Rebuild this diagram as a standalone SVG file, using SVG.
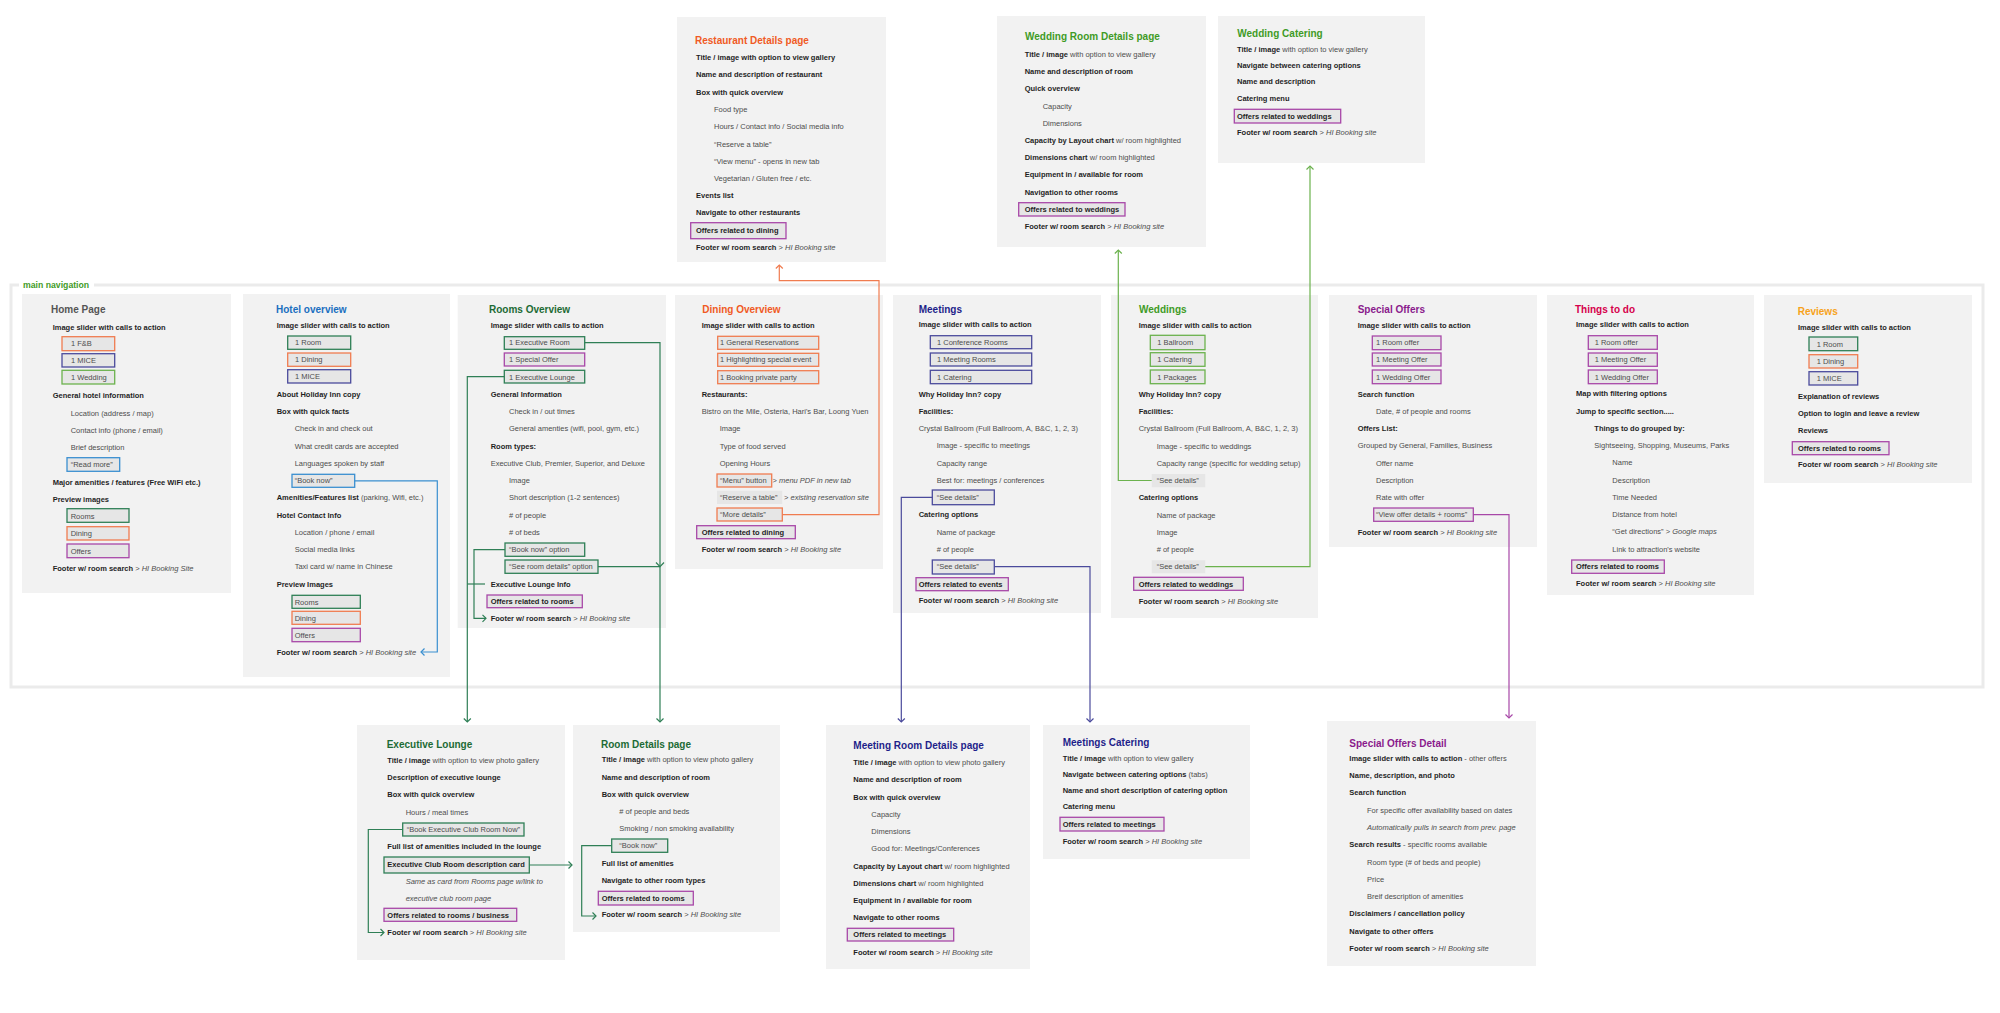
<svg xmlns="http://www.w3.org/2000/svg" width="2000" height="1013" viewBox="0 0 2000 1013">
<style>
text{font-family:"Liberation Sans",Arial,sans-serif;font-size:7.5px;fill:#4d4d4d}
.b{font-weight:bold;fill:#1f1f1f}
.i{font-style:italic}
.t{font-size:10px;font-weight:bold}
.box{fill:#f2f2f2}
.btn{fill:#e6e6e6;stroke-width:1.3}
.gb{fill:#e6e6e6}
.sg{stroke:#2f7f56}.so{stroke:#f07c50}.sn{stroke:#4b4b9c}.sw{stroke:#6cb24e}.sp{stroke:#a848a8}.sb{stroke:#3a8fd0}
.ln{fill:none;stroke-width:1.2}
</style>
<defs>
<marker id="mg" viewBox="-6 -6 12 12" markerWidth="12" markerHeight="12" markerUnits="userSpaceOnUse" orient="auto"><path d="M-3.5,-3.5 L0,0 L-3.5,3.5" fill="none" stroke="#2f7f56" stroke-width="1.2"/></marker>
<marker id="mo" viewBox="-6 -6 12 12" markerWidth="12" markerHeight="12" markerUnits="userSpaceOnUse" orient="auto"><path d="M-3.5,-3.5 L0,0 L-3.5,3.5" fill="none" stroke="#f07c50" stroke-width="1.2"/></marker>
<marker id="mn" viewBox="-6 -6 12 12" markerWidth="12" markerHeight="12" markerUnits="userSpaceOnUse" orient="auto"><path d="M-3.5,-3.5 L0,0 L-3.5,3.5" fill="none" stroke="#4b4b9c" stroke-width="1.2"/></marker>
<marker id="mw" viewBox="-6 -6 12 12" markerWidth="12" markerHeight="12" markerUnits="userSpaceOnUse" orient="auto"><path d="M-3.5,-3.5 L0,0 L-3.5,3.5" fill="none" stroke="#6cb24e" stroke-width="1.2"/></marker>
<marker id="mp" viewBox="-6 -6 12 12" markerWidth="12" markerHeight="12" markerUnits="userSpaceOnUse" orient="auto"><path d="M-3.5,-3.5 L0,0 L-3.5,3.5" fill="none" stroke="#a848a8" stroke-width="1.2"/></marker>
<marker id="mb" viewBox="-6 -6 12 12" markerWidth="12" markerHeight="12" markerUnits="userSpaceOnUse" orient="auto"><path d="M-3.5,-3.5 L0,0 L-3.5,3.5" fill="none" stroke="#3a8fd0" stroke-width="1.2"/></marker>
</defs>
<rect x="0" y="0" width="2000" height="1013" fill="#fff"/>

<g id="main-navigation">
<rect x="11" y="285" width="1972" height="402" fill="none" stroke="#ebebeb" stroke-width="3"/>
<rect x="19" y="278" width="75" height="13" fill="#fff"/>
<text x="23" y="287.5" style="font-size:8.7px;font-weight:bold;fill:#3f9b26">main navigation</text>
</g>

<g id="home">
<rect class="box" x="22" y="294" width="209" height="299"/>
<text class="t" x="51" y="313" style="fill:#555">Home Page</text>
<text class="b" x="52.7" y="329.5">Image slider with calls to action</text>
<rect class="btn so" x="62" y="336.7" width="52.7" height="14"/><text x="71" y="346">1 F&amp;B</text>
<rect class="btn sn" x="62" y="353.7" width="52.7" height="13.3"/><text x="71" y="363">1 MICE</text>
<rect class="btn sw" x="62" y="370.3" width="52.7" height="13.7"/><text x="71" y="380">1 Wedding</text>
<text class="b" x="52.7" y="398">General hotel information</text>
<text x="70.7" y="415.5">Location (address / map)</text>
<text x="70.7" y="432.7">Contact info (phone / email)</text>
<text x="70.7" y="449.8">Brief description</text>
<rect class="btn sb" x="67" y="457.7" width="52.7" height="13.6"/><text x="70.7" y="467">“Read more”</text>
<text class="b" x="52.7" y="484.5">Major amenities / features (Free WiFi etc.)</text>
<text class="b" x="52.7" y="501.8">Preview images</text>
<rect class="btn sg" x="67" y="508.7" width="62" height="13.6"/><text x="70.7" y="518.7">Rooms</text>
<rect class="btn so" x="67" y="526.7" width="62" height="13.3"/><text x="70.7" y="536.3">Dining</text>
<rect class="btn sp" x="67" y="544" width="62" height="13.7"/><text x="70.7" y="553.7">Offers</text>
<text x="52.7" y="570.5"><tspan class="b">Footer w/ room search</tspan> &gt; <tspan class="i">HI Booking Site</tspan></text>
</g>

<g id="hotel-overview">
<rect class="box" x="243" y="294" width="207" height="383"/>
<text class="t" x="276" y="313" style="fill:#1a6fc0">Hotel overview</text>
<text class="b" x="276.7" y="327.8">Image slider with calls to action</text>
<rect class="btn sg" x="287.7" y="336" width="63" height="13.3"/><text x="295" y="345">1 Room</text>
<rect class="btn so" x="287.7" y="353" width="63" height="13.3"/><text x="295" y="362">1 Dining</text>
<rect class="btn sn" x="287.7" y="369.7" width="63" height="13.3"/><text x="295" y="379">1 MICE</text>
<text class="b" x="276.7" y="396.8">About Holiday Inn copy</text>
<text class="b" x="276.7" y="414">Box with quick facts</text>
<text x="294.7" y="431.4">Check in and check out</text>
<text x="294.7" y="448.7">What credit cards are accepted</text>
<text x="294.7" y="466">Languages spoken by staff</text>
<rect class="btn sb" x="292" y="474.3" width="62.7" height="13"/><text x="294.7" y="483">“Book now”</text>
<text x="276.7" y="500.4"><tspan class="b">Amenities/Features list</tspan> (parking, Wifi, etc.)</text>
<text class="b" x="276.7" y="517.7">Hotel Contact Info</text>
<text x="294.7" y="535">Location / phone / email</text>
<text x="294.7" y="552">Social media links</text>
<text x="294.7" y="569.4">Taxi card w/ name in Chinese</text>
<text class="b" x="276.7" y="586.7">Preview Images</text>
<rect class="btn sg" x="292" y="595.3" width="68.3" height="13"/><text x="294.7" y="604.5">Rooms</text>
<rect class="btn so" x="292" y="611.3" width="68.3" height="13"/><text x="294.7" y="620.8">Dining</text>
<rect class="btn sp" x="292" y="628.3" width="68.3" height="13.4"/><text x="294.7" y="638">Offers</text>
<text x="276.7" y="655.4"><tspan class="b">Footer w/ room search</tspan> &gt; <tspan class="i">HI Booking site</tspan></text>
</g>

<g id="rooms-overview">
<rect class="box" x="457.7" y="295" width="208.3" height="333"/>
<text class="t" x="489" y="313" style="fill:#1d6b35">Rooms Overview</text>
<text class="b" x="490.7" y="327.8">Image slider with calls to action</text>
<rect class="btn sg" x="504.3" y="336.7" width="80.4" height="12.6"/><text x="509" y="345.2">1 Executive Room</text>
<rect class="btn sp" x="504.3" y="353" width="80.4" height="13"/><text x="509" y="362.3">1 Special Offer</text>
<rect class="btn sg" x="504.3" y="370.3" width="80.4" height="12.7"/><text x="509" y="379.5">1 Executive Lounge</text>
<text class="b" x="490.7" y="396.7">General Information</text>
<text x="509" y="414">Check in / out times</text>
<text x="509" y="431.4">General amenties (wifi, pool, gym, etc.)</text>
<text class="b" x="490.7" y="448.7">Room types:</text>
<text x="490.7" y="465.7">Executive Club, Premier, Superior, and Deluxe</text>
<text x="509" y="483">Image</text>
<text x="509" y="500.4">Short description (1-2 sentences)</text>
<text x="509" y="517.7"># of people</text>
<text x="509" y="534.7"># of beds</text>
<rect class="btn sg" x="505" y="543" width="79.7" height="13.3"/><text x="509" y="552.4">“Book now” option</text>
<rect class="btn sg" x="505" y="560" width="93" height="13.3"/><text x="509" y="569.4">“See room details” option</text>
<text class="b" x="490.7" y="586.7">Executive Lounge Info</text>
<rect class="btn sp" x="487" y="595" width="95.3" height="12.7"/><text class="b" x="490.7" y="604">Offers related to rooms</text>
<text x="490.7" y="621"><tspan class="b">Footer w/ room search</tspan> &gt; <tspan class="i">HI Booking site</tspan></text>
</g>

<g id="dining-overview">
<rect class="box" x="675" y="295" width="208" height="274"/>
<text class="t" x="702.3" y="313" style="fill:#f05a24">Dining Overview</text>
<text class="b" x="701.7" y="327.7">Image slider with calls to action</text>
<rect class="btn so" x="717.7" y="336.3" width="101" height="13"/><text x="720" y="345.2">1 General Reservations</text>
<rect class="btn so" x="717.7" y="353.3" width="101" height="13"/><text x="720" y="362.3">1 Highlighting special event</text>
<rect class="btn so" x="717.7" y="370.7" width="101" height="13"/><text x="720" y="379.7">1 Booking private party</text>
<text class="b" x="701.7" y="396.7">Restaurants:</text>
<text x="701.7" y="414">Bistro on the Mile, Osteria, Hari's Bar, Loong Yuen</text>
<text x="719.7" y="431.4">Image</text>
<text x="719.7" y="448.7">Type of food served</text>
<text x="719.7" y="465.7">Opening Hours</text>
<rect class="btn so" x="717" y="474" width="54.7" height="13"/><text x="720" y="483">“Menu” button</text>
<text x="772.5" y="483">&gt; <tspan class="i">menu PDF in new tab</tspan></text>
<rect class="gb" x="717" y="490.7" width="65.3" height="13.3"/><text x="720" y="500.4">“Reserve a table”</text>
<text x="784" y="500.4">&gt; <tspan class="i">existing reservation site</tspan></text>
<rect class="btn so" x="717" y="508" width="65.3" height="13"/><text x="720" y="517.4">“More details”</text>
<rect class="btn sp" x="696.7" y="525.7" width="98.6" height="13"/><text class="b" x="701.7" y="534.7">Offers related to dining</text>
<text x="701.7" y="552"><tspan class="b">Footer w/ room search</tspan> &gt; <tspan class="i">HI Booking site</tspan></text>
</g>

<g id="meetings">
<rect class="box" x="893" y="295" width="208" height="318"/>
<text class="t" x="918.7" y="313" style="fill:#1f1f8a">Meetings</text>
<text class="b" x="918.7" y="327.4">Image slider with calls to action</text>
<rect class="btn sn" x="930.3" y="335.7" width="101.4" height="13"/><text x="937" y="344.7">1 Conference Rooms</text>
<rect class="btn sn" x="930.3" y="353" width="101.4" height="13"/><text x="937" y="362">1 Meeting Rooms</text>
<rect class="btn sn" x="930.3" y="370.3" width="101.4" height="13.4"/><text x="937" y="379.5">1 Catering</text>
<text class="b" x="918.7" y="396.7">Why Holiday Inn? copy</text>
<text class="b" x="918.7" y="413.7">Facilities:</text>
<text x="918.7" y="431">Crystal Ballroom (Full Ballroom, A, B&amp;C, 1, 2, 3)</text>
<text x="936.7" y="448.4">Image - specific to meetings</text>
<text x="936.7" y="465.7">Capacity range</text>
<text x="936.7" y="482.7">Best for: meetings / conferences</text>
<rect class="btn sn" x="932.3" y="490" width="62" height="14.7"/><text x="936.7" y="500">“See details”</text>
<text class="b" x="918.7" y="517.4">Catering options</text>
<text x="936.7" y="534.7">Name of package</text>
<text x="936.7" y="551.7"># of people</text>
<rect class="btn sn" x="932.3" y="560" width="62" height="14"/><text x="936.7" y="569.2">“See details”</text>
<rect class="btn sp" x="916" y="577.7" width="92.3" height="13"/><text class="b" x="918.7" y="586.6">Offers related to events</text>
<text x="918.7" y="603.4"><tspan class="b">Footer w/ room search</tspan> &gt; <tspan class="i">HI Booking site</tspan></text>
</g>

<g id="weddings">
<rect class="box" x="1111" y="295" width="207" height="323"/>
<text class="t" x="1139" y="313" style="fill:#3f9b26">Weddings</text>
<text class="b" x="1138.7" y="327.7">Image slider with calls to action</text>
<rect class="btn sw" x="1150.3" y="335.3" width="54.7" height="14.4"/><text x="1157.3" y="345.2">1 Ballroom</text>
<rect class="btn sw" x="1150.3" y="352.7" width="54.7" height="13.6"/><text x="1157.3" y="362.3">1 Catering</text>
<rect class="btn sw" x="1150.3" y="370" width="54.7" height="13.7"/><text x="1157.3" y="379.6">1 Packages</text>
<text class="b" x="1138.7" y="397">Why Holiday Inn? copy</text>
<text class="b" x="1138.7" y="414">Facilities:</text>
<text x="1138.7" y="431.4">Crystal Ballroom (Full Ballroom, A, B&amp;C, 1, 2, 3)</text>
<text x="1156.7" y="448.7">Image - specific to weddings</text>
<text x="1156.7" y="465.7">Capacity range (specific for wedding setup)</text>
<rect class="gb" x="1151.7" y="474" width="53.6" height="13.3"/><text x="1156.7" y="483">“See details”</text>
<text class="b" x="1138.7" y="500.4">Catering options</text>
<text x="1156.7" y="517.7">Name of package</text>
<text x="1156.7" y="535">Image</text>
<text x="1156.7" y="552"># of people</text>
<rect class="gb" x="1151.7" y="560.3" width="53.6" height="13"/><text x="1156.7" y="569.4">“See details”</text>
<rect class="btn sp" x="1133.7" y="577.3" width="109.6" height="13"/><text class="b" x="1138.7" y="586.7">Offers related to weddings</text>
<text x="1138.7" y="604"><tspan class="b">Footer w/ room search</tspan> &gt; <tspan class="i">HI Booking site</tspan></text>
</g>

<g id="special-offers">
<rect class="box" x="1329" y="295" width="208" height="252"/>
<text class="t" x="1357.7" y="313" style="fill:#8a1a8c">Special Offers</text>
<text class="b" x="1357.7" y="327.7">Image slider with calls to action</text>
<rect class="btn sp" x="1372.3" y="336" width="68.7" height="13.7"/><text x="1376" y="345.2">1 Room offer</text>
<rect class="btn sp" x="1372.3" y="353" width="68.7" height="13"/><text x="1376" y="362.2">1 Meeting Offer</text>
<rect class="btn sp" x="1372.3" y="370" width="68.7" height="13.7"/><text x="1376" y="379.5">1 Wedding Offer</text>
<text class="b" x="1357.7" y="396.7">Search function</text>
<text x="1376" y="414">Date, # of people and rooms</text>
<text class="b" x="1357.7" y="431">Offers List:</text>
<text x="1357.7" y="448.4">Grouped by General, Families, Business</text>
<text x="1376" y="465.7">Offer name</text>
<text x="1376" y="482.7">Description</text>
<text x="1376" y="500">Rate with offer</text>
<rect class="btn sp" x="1373.7" y="508" width="99.6" height="13.3"/><text x="1376" y="517.4">“View offer details + rooms”</text>
<text x="1357.7" y="534.7"><tspan class="b">Footer w/ room search</tspan> &gt; <tspan class="i">HI Booking site</tspan></text>
</g>

<g id="things-to-do">
<rect class="box" x="1547" y="295" width="207" height="300"/>
<text class="t" x="1575" y="313" style="fill:#d6004c">Things to do</text>
<text class="b" x="1576" y="327.4">Image slider with calls to action</text>
<rect class="btn sp" x="1588.3" y="335.7" width="69" height="13.6"/><text x="1594.7" y="344.9">1 Room offer</text>
<rect class="btn sp" x="1588.3" y="353" width="69" height="13.3"/><text x="1594.7" y="362.3">1 Meeting Offer</text>
<rect class="btn sp" x="1588.3" y="370" width="69" height="13.7"/><text x="1594.7" y="379.5">1 Wedding Offer</text>
<text class="b" x="1576" y="396.4">Map with filtering options</text>
<text class="b" x="1576" y="413.7">Jump to specific section.....</text>
<text class="b" x="1594.3" y="431">Things to do grouped by:</text>
<text x="1594.3" y="448">Sightseeing, Shopping, Museums, Parks</text>
<text x="1612.3" y="465.4">Name</text>
<text x="1612.3" y="482.7">Description</text>
<text x="1612.3" y="499.7">Time Needed</text>
<text x="1612.3" y="517">Distance from hotel</text>
<text x="1612.3" y="534.4">“Get directions” &gt; <tspan class="i">Google maps</tspan></text>
<text x="1612.3" y="551.7">Link to attraction's website</text>
<rect class="btn sp" x="1571.7" y="560" width="92.6" height="13.3"/><text class="b" x="1576" y="568.9">Offers related to rooms</text>
<text x="1576" y="586"><tspan class="b">Footer w/ room search</tspan> &gt; <tspan class="i">HI Booking site</tspan></text>
</g>

<g id="reviews">
<rect class="box" x="1764" y="295" width="208" height="188"/>
<text class="t" x="1797.7" y="315" style="fill:#f7a21b">Reviews</text>
<text class="b" x="1798" y="329.7">Image slider with calls to action</text>
<rect class="btn sg" x="1809" y="337" width="48.7" height="13.7"/><text x="1816.7" y="346.8">1 Room</text>
<rect class="btn so" x="1809" y="354.7" width="48.7" height="13.3"/><text x="1816.7" y="364">1 Dining</text>
<rect class="btn sn" x="1809" y="371.7" width="48.7" height="13.3"/><text x="1816.7" y="381">1 MICE</text>
<text class="b" x="1798" y="398.7">Explanation of reviews</text>
<text class="b" x="1798" y="416">Option to login and leave a review</text>
<text class="b" x="1798" y="433">Reviews</text>
<rect class="btn sp" x="1792.3" y="441.7" width="96.7" height="13"/><text class="b" x="1798" y="450.6">Offers related to rooms</text>
<text x="1798" y="467.4"><tspan class="b">Footer w/ room search</tspan> &gt; <tspan class="i">HI Booking site</tspan></text>
</g>

<g id="restaurant-details">
<rect class="box" x="677" y="17" width="209" height="245"/>
<text class="t" x="695" y="43.8" style="fill:#f05a24">Restaurant Details page</text>
<text class="b" x="696" y="60.4">Title / image with option to view gallery</text>
<text class="b" x="696" y="77.4">Name and description of restaurant</text>
<text class="b" x="696" y="94.7">Box with quick overview</text>
<text x="714" y="112">Food type</text>
<text x="714" y="129.4">Hours / Contact info / Social media info</text>
<text x="714" y="146.7">“Reserve a table”</text>
<text x="714" y="163.7">“View menu” - opens in new tab</text>
<text x="714" y="181">Vegetarian / Gluten free / etc.</text>
<text class="b" x="696" y="198">Events list</text>
<text class="b" x="696" y="215.4">Navigate to other restaurants</text>
<rect class="btn sp" x="690.7" y="222.7" width="95.3" height="16"/><text class="b" x="696" y="233">Offers related to dining</text>
<text x="696" y="250"><tspan class="b">Footer w/ room search</tspan> &gt; <tspan class="i">HI Booking site</tspan></text>
</g>

<g id="wedding-room-details">
<rect class="box" x="997" y="16" width="209" height="231"/>
<text class="t" x="1025" y="40" style="fill:#3f9b26">Wedding Room Details page</text>
<text x="1024.7" y="56.7"><tspan class="b">Title / image</tspan> with option to view gallery</text>
<text class="b" x="1024.7" y="74">Name and description of room</text>
<text class="b" x="1024.7" y="91.4">Quick overview</text>
<text x="1042.7" y="108.7">Capacity</text>
<text x="1042.7" y="125.7">Dimensions</text>
<text x="1024.7" y="143"><tspan class="b">Capacity by Layout chart</tspan> w/ room highlighted</text>
<text x="1024.7" y="160.4"><tspan class="b">Dimensions chart</tspan> w/ room highlighted</text>
<text class="b" x="1024.7" y="177.4">Equipment in / available for room</text>
<text class="b" x="1024.7" y="194.7">Navigation to other rooms</text>
<rect class="btn sp" x="1018.7" y="202.7" width="106.3" height="13.3"/><text class="b" x="1024.7" y="212">Offers related to weddings</text>
<text x="1024.7" y="229.4"><tspan class="b">Footer w/ room search</tspan> &gt; <tspan class="i">HI Booking site</tspan></text>
</g>

<g id="wedding-catering">
<rect class="box" x="1218" y="16" width="207" height="147"/>
<text class="t" x="1237.3" y="37" style="fill:#3f9b26">Wedding Catering</text>
<text x="1237" y="52.4"><tspan class="b">Title / image</tspan> with option to view gallery</text>
<text class="b" x="1237" y="68.4">Navigate between catering options</text>
<text class="b" x="1237" y="84.4">Name and description</text>
<text class="b" x="1237" y="101">Catering menu</text>
<rect class="btn sp" x="1234.3" y="109.3" width="106.4" height="13.7"/><text class="b" x="1237" y="118.5">Offers related to weddings</text>
<text x="1237" y="135.4"><tspan class="b">Footer w/ room search</tspan> &gt; <tspan class="i">HI Booking site</tspan></text>
</g>

<g id="executive-lounge">
<rect class="box" x="357" y="725" width="208" height="235"/>
<text class="t" x="386.7" y="748" style="fill:#1d6b35">Executive Lounge</text>
<text x="387.3" y="763"><tspan class="b">Title / image</tspan> with option to view photo gallery</text>
<text class="b" x="387.3" y="780">Description of executive lounge</text>
<text class="b" x="387.3" y="797.4">Box with quick overview</text>
<text x="405.7" y="814.7">Hours / meal times</text>
<rect class="btn sg" x="402.7" y="823" width="121.3" height="13"/><text x="406.7" y="832">“Book Executive Club Room Now”</text>
<text class="b" x="387.3" y="849.4">Full list of amenities included in the lounge</text>
<rect class="btn sg" x="384" y="857" width="145.3" height="16"/><text class="b" x="387.3" y="867.2">Executive Club Room description card</text>
<text class="i" x="405.7" y="883.7">Same as card from Rooms page w/link to</text>
<text class="i" x="405.7" y="901">executive club room page</text>
<rect class="btn sp" x="384" y="908.3" width="132.7" height="13"/><text class="b" x="387.3" y="918">Offers related to rooms / business</text>
<text x="387.3" y="935.4"><tspan class="b">Footer w/ room search</tspan> &gt; <tspan class="i">HI Booking site</tspan></text>
</g>

<g id="room-details">
<rect class="box" x="573" y="725" width="207" height="207"/>
<text class="t" x="601" y="748" style="fill:#1d6b35">Room Details page</text>
<text x="601.7" y="762.4"><tspan class="b">Title / image</tspan> with option to view photo gallery</text>
<text class="b" x="601.7" y="779.7">Name and description of room</text>
<text class="b" x="601.7" y="796.7">Box with quick overview</text>
<text x="619.3" y="814"># of people and beds</text>
<text x="619.3" y="831">Smoking / non smoking availability</text>
<rect class="btn sg" x="611.7" y="839" width="56" height="13.3"/><text x="619.3" y="848.4">“Book now”</text>
<text class="b" x="601.7" y="865.7">Full list of amenities</text>
<text class="b" x="601.7" y="883">Navigate to other room types</text>
<rect class="btn sp" x="598.3" y="891.3" width="95" height="13.7"/><text class="b" x="601.7" y="900.6">Offers related to rooms</text>
<text x="601.7" y="917.4"><tspan class="b">Footer w/ room search</tspan> &gt; <tspan class="i">HI Booking site</tspan></text>
</g>

<g id="meeting-room-details">
<rect class="box" x="826" y="725" width="204" height="244"/>
<text class="t" x="853.3" y="748.5" style="fill:#1f1f8a">Meeting Room Details page</text>
<text x="853.3" y="765"><tspan class="b">Title / image</tspan> with option to view photo gallery</text>
<text class="b" x="853.3" y="782.4">Name and description of room</text>
<text class="b" x="853.3" y="799.7">Box with quick overview</text>
<text x="871.3" y="816.7">Capacity</text>
<text x="871.3" y="834">Dimensions</text>
<text x="871.3" y="851.4">Good for: Meetings/Conferences</text>
<text x="853.3" y="868.7"><tspan class="b">Capacity by Layout chart</tspan> w/ room highlighted</text>
<text x="853.3" y="886"><tspan class="b">Dimensions chart</tspan> w/ room highlighted</text>
<text class="b" x="853.3" y="903">Equipment in / available for room</text>
<text class="b" x="853.3" y="920.4">Navigate to other rooms</text>
<rect class="btn sp" x="847.3" y="928.3" width="106.4" height="12.7"/><text class="b" x="853.3" y="937.4">Offers related to meetings</text>
<text x="853.3" y="954.7"><tspan class="b">Footer w/ room search</tspan> &gt; <tspan class="i">HI Booking site</tspan></text>
</g>

<g id="meetings-catering">
<rect class="box" x="1043" y="725" width="207" height="134"/>
<text class="t" x="1062.7" y="745.5" style="fill:#1f1f8a">Meetings Catering</text>
<text x="1062.7" y="760.7"><tspan class="b">Title / image</tspan> with option to view gallery</text>
<text x="1062.7" y="776.7"><tspan class="b">Navigate between catering options</tspan> (tabs)</text>
<text class="b" x="1062.7" y="793">Name and short description of catering option</text>
<text class="b" x="1062.7" y="809.4">Catering menu</text>
<rect class="btn sp" x="1060" y="817.3" width="104" height="13.7"/><text class="b" x="1062.7" y="826.6">Offers related to meetings</text>
<text x="1062.7" y="843.7"><tspan class="b">Footer w/ room search</tspan> &gt; <tspan class="i">HI Booking site</tspan></text>
</g>

<g id="special-offers-detail">
<rect class="box" x="1327" y="721" width="209" height="245"/>
<text class="t" x="1349.3" y="746.5" style="fill:#8a1a8c">Special Offers Detail</text>
<text x="1349.3" y="761.4"><tspan class="b">Image slider with calls to action</tspan> - other offers</text>
<text class="b" x="1349.3" y="778.4">Name, description, and photo</text>
<text class="b" x="1349.3" y="795.4">Search function</text>
<text x="1367" y="812.7">For specific offer availability based on dates</text>
<text class="i" x="1367" y="830">Automatically pulls in search from prev. page</text>
<text x="1349.3" y="847.4"><tspan class="b">Search results</tspan> - specific rooms available</text>
<text x="1367" y="864.7">Room type (# of beds and people)</text>
<text x="1367" y="882">Price</text>
<text x="1367" y="899">Breif description of amenities</text>
<text class="b" x="1349.3" y="916.4">Disclaimers / cancellation policy</text>
<text class="b" x="1349.3" y="933.7">Navigate to other offers</text>
<text x="1349.3" y="951"><tspan class="b">Footer w/ room search</tspan> &gt; <tspan class="i">HI Booking site</tspan></text>
</g>

<g id="connectors">
<path class="ln sb" d="M354.7,480.8 H437.3 V652 H421" marker-end="url(#mb)"/>
<path class="ln sg" d="M584.7,342.7 H660 V722" marker-end="url(#mg)"/>
<path class="ln sg" d="M598,566.7 H660"/>
<path class="ln sg" d="M656,562.5 L660,566.7 L664,562.5"/>
<path class="ln sg" d="M504.3,376.7 H467.3 V722" marker-end="url(#mg)"/>
<path class="ln sg" d="M467.3,584 H485"/>
<path class="ln sg" d="M505,549.7 H474 V618.3 H486" marker-end="url(#mg)"/>
<path class="ln so" d="M782.3,514.7 H879 V280.7 H779.3 V265" marker-end="url(#mo)"/>
<path class="ln sn" d="M932.3,497.3 H901.3 V722" marker-end="url(#mn)"/>
<path class="ln sn" d="M994.3,566.7 H1090 V722" marker-end="url(#mn)"/>
<path class="ln sw" d="M1151.7,480.5 H1118.3 V250" marker-end="url(#mw)"/>
<path class="ln sw" d="M1205.3,566.7 H1310 V166" marker-end="url(#mw)"/>
<path class="ln sp" d="M1473.3,514.7 H1509 V718" marker-end="url(#mp)"/>
<path class="ln sg" d="M402.7,829.5 H368.3 V932.5 H384" marker-end="url(#mg)"/>
<path class="ln sg" d="M529.3,865 H572" marker-end="url(#mg)"/>
<path class="ln sg" d="M611.7,845.7 H581.7 V916 H596" marker-end="url(#mg)"/>
</g>
</svg>
